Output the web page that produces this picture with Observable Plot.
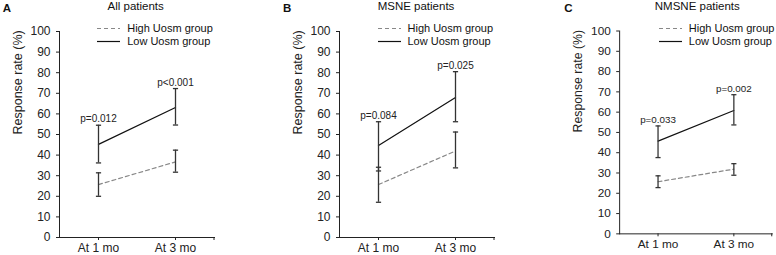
<!DOCTYPE html>
<html><head><meta charset="utf-8">
<script src="https://cdn.jsdelivr.net/npm/d3@7"></script>
<script src="https://cdn.jsdelivr.net/npm/@observablehq/plot@0.6"></script>
<style>
body{margin:0;background:#fff;font-family:"Liberation Sans",Arial,sans-serif;color:#111;}
#wrap{position:relative;width:776px;height:255px;overflow:hidden;}
.panel{position:absolute;top:0;}
.letter{position:absolute;top:1.5px;font-weight:bold;font-size:11.5px;line-height:13px;}
.title{position:absolute;top:0px;font-size:11.5px;line-height:13px;text-align:center;width:160px;}
.leg{position:absolute;font-size:11px;line-height:13px;white-space:nowrap;}
.leg svg{position:absolute;left:0;top:0;}
.leg span{position:absolute;left:30px;}
</style>
</head><body>
<div id="wrap"></div>
<script>
const panelLetters = ["A", "B", "C"];
const panelTitles = ["All patients", "MSNE patients", "NMSNE patients"];
const timepoints = ["At 1 mo", "At 3 mo"];
const groups = ["High Uosm group", "Low Uosm group"];
// values per panel [At 1 mo, At 3 mo]
const highMean  = [[25.7, 36.7], [25.7, 42.0], [25.7, 31.9]];
const highLower = [[20.0, 31.7], [17.1, 33.8], [22.8, 28.9]];
const highUpper = [[31.4, 42.4], [34.1, 51.2], [28.6, 34.6]];
const lowMean   = [[45.2, 63.1], [44.7, 68.0], [45.7, 60.8]];
const lowLower  = [[36.2, 54.6], [32.3, 56.2], [37.6, 53.7]];
const lowUpper  = [[54.5, 72.3], [56.2, 80.5], [53.2, 68.6]];
const pLabels   = [["p=0.012", "p<0.001"], ["p=0.084", "p=0.025"], ["p=0.033", "p=0.002"]];
const yTicks = [0, 10, 20, 30, 40, 50, 60, 70, 80, 90, 100];
const yLabel = "Response rate (%)";

const axisPos = [58.7, 339, 620.3];
const mLeft = 56;
const font = '"Liberation Sans", Arial, sans-serif';
const wrap = document.getElementById("wrap");

// horizontal cap symbol for error bars
const capSymbol = {
  draw(context, size) {
    const w = Math.sqrt(size / Math.PI);
    context.moveTo(-w, 0);
    context.lineTo(w, 0);
  }
};

panelLetters.forEach((letter, i) => {
  const high = timepoints.map((t, j) => ({group: groups[0], time: t, mean: highMean[i][j], lo: highLower[i][j], hi: highUpper[i][j]}));
  const low = timepoints.map((t, j) => ({group: groups[1], time: t, mean: lowMean[i][j], lo: lowLower[i][j], hi: lowUpper[i][j], p: pLabels[i][j]}));
  const all = high.concat(low);

  const chart = Plot.plot({
    width: 215, height: 255,
    marginLeft: mLeft, marginRight: 4, marginTop: 31, marginBottom: 18,
    style: {fontFamily: font, fontSize: "12px", color: "#222", background: "transparent", overflow: "visible"},
    x: {type: "point", domain: timepoints, padding: 0.5, tickSize: 3, tickPadding: 3, line: true, label: null},
    y: {domain: [0, 100], ticks: yTicks, tickSize: 3, tickPadding: 6, line: true, label: null},
    marks: [
      (index, scales, values, dims) => {
        const x = dims.width - dims.marginRight;
        const y = dims.height - dims.marginBottom;
        const l = document.createElementNS("http://www.w3.org/2000/svg", "line");
        l.setAttribute("x1", x); l.setAttribute("x2", x);
        l.setAttribute("y1", y); l.setAttribute("y2", y + 3);
        l.setAttribute("stroke", "#222");
        return l;
      },
      Plot.line(high, {x: "time", y: "mean", stroke: "#888", strokeWidth: 1.2, strokeDasharray: "4,3"}),
      Plot.line(low, {x: "time", y: "mean", stroke: "#111", strokeWidth: 1.2}),
      Plot.ruleX(all, {x: "time", y1: "lo", y2: "hi", stroke: "#333", strokeWidth: 1.3}),
      Plot.dot(all, {x: "time", y: "hi", symbol: capSymbol, r: 2.6, stroke: "#333", fill: "none", strokeWidth: 1.3}),
      Plot.dot(all, {x: "time", y: "lo", symbol: capSymbol, r: 2.6, stroke: "#333", fill: "none", strokeWidth: 1.3}),
      Plot.text(low, {x: "time", y: "hi", text: "p", lineAnchor: "bottom", dy: -3, fontSize: 10, fill: "#222"}),
      Plot.text([yLabel], {frameAnchor: "left", rotate: -90, dx: -42, fontSize: 12.5, fill: "#222"})
    ]
  });
  const div = document.createElement("div");
  div.className = "panel";
  div.style.left = (axisPos[i] - mLeft) + "px";
  div.appendChild(chart);
  wrap.appendChild(div);

  const lt = document.createElement("div");
  lt.className = "letter";
  lt.style.left = (axisPos[i] - 56) + "px";
  lt.textContent = letter;
  wrap.appendChild(lt);

  const tt = document.createElement("div");
  tt.className = "title";
  tt.style.left = (axisPos[i] + 77 - 80) + "px";
  tt.textContent = panelTitles[i];
  wrap.appendChild(tt);

  const styles = [{stroke: "#888", dash: "4,3"}, {stroke: "#111", dash: null}];
  groups.forEach((g, k) => {
    const lg = document.createElement("div");
    lg.className = "leg";
    lg.style.left = (axisPos[i] + 38.5) + "px";
    lg.style.top = (21.5 + k * 13) + "px";
    lg.innerHTML = `<svg width="26" height="13"><line x1="0" x2="23" y1="6.5" y2="6.5" stroke="${styles[k].stroke}" stroke-width="1.2" ${styles[k].dash ? `stroke-dasharray="${styles[k].dash}"` : ""}/></svg><span>${g}</span>`;
    wrap.appendChild(lg);
  });
});
</script>
</body></html>
